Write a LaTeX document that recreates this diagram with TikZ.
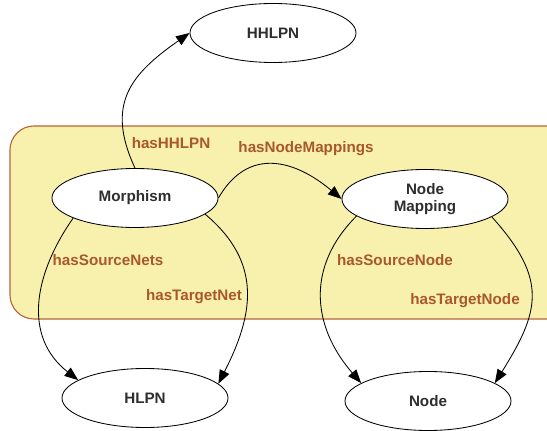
\documentclass[tikz,border=0pt]{standalone}
\usepackage{fontspec}
\setmainfont{Liberation Sans}
\usepackage{xcolor}
\usetikzlibrary{positioning, arrows.meta, shapes.geometric}
\definecolor{BrownA}{HTML}{A9582B}
\definecolor{BrownB}{HTML}{B5663C}
\definecolor{YellowB}{HTML}{F8F1AD}
\definecolor{GrayA}{HTML}{2E2E2E}
\tikzset{
  cls/.style={draw, ellipse, fill=white, align=center, text=GrayA,
              font=\fontsize{10.8}{12.5}\selectfont\bfseries,
              minimum width=4.15cm, minimum height=1.475cm, inner sep=0pt,
              line width=0.6pt},
  grp/.style={draw=BrownB, fill=YellowB, line width=0.8pt, rounded corners=0.6cm},
  ar/.style={-{Triangle[length=3.4mm, width=2.6mm]}, line width=0.6pt},
  rl/.style={font=\fontsize{10.8}{12}\selectfont\bfseries, text=BrownA, inner sep=1pt},
}

\begin{document}
\begin{tikzpicture}[x=0.025cm, y=0.025cm]
  \useasboundingbox (0,0) rectangle (547,-431);
  \begin{scope}
    \clip (0,0) rectangle (547,-431);
    \draw[grp] (10,-126) rectangle (575,-319);
  \end{scope}

  \node[cls] (hhlpn) at (273,-33) {HHLPN};
  \node[cls] (morph) at (135,-198) {Morphism};
  \node[cls] (nmap) at (425,-199) {Node\\Mapping};
  \node[cls] (hlpn) at (145,-398) {HLPN};
  \node[cls] (node) at (428,-401) {Node};

  \node[rl] (lhh) at (171,-143) {hasHHLPN};
  \node[rl] (lnm) at (306,-149) {hasNodeMappings};
  \node[rl] (lsn) at (108,-260) {hasSourceNets};
  \node[rl] (ltn) at (194,-297) {hasTargetNet};
  \node[rl] (lsnd) at (395,-260) {hasSourceNode};
  \node[rl] (ltnd) at (465,-301) {hasTargetNode};

  \draw[ar] (morph.north) to[out=115,in=215,looseness=1.25] (hhlpn.west);
  \draw[ar] (morph.east) to[out=60,in=140,looseness=1.25] (nmap.west);
  \draw[ar] (morph.198) to[out=235,in=142,looseness=1.1] (hlpn.165);
  \draw[ar] (morph.-13) to[out=-40,in=63,looseness=1.15] (hlpn.11);
  \draw[ar] (nmap.194) to[out=225,in=131,looseness=1.12] (node.165);
  \draw[ar] (nmap.-15) to[out=-48,in=58,looseness=1.3] (node.15);
\end{tikzpicture}
\end{document}
